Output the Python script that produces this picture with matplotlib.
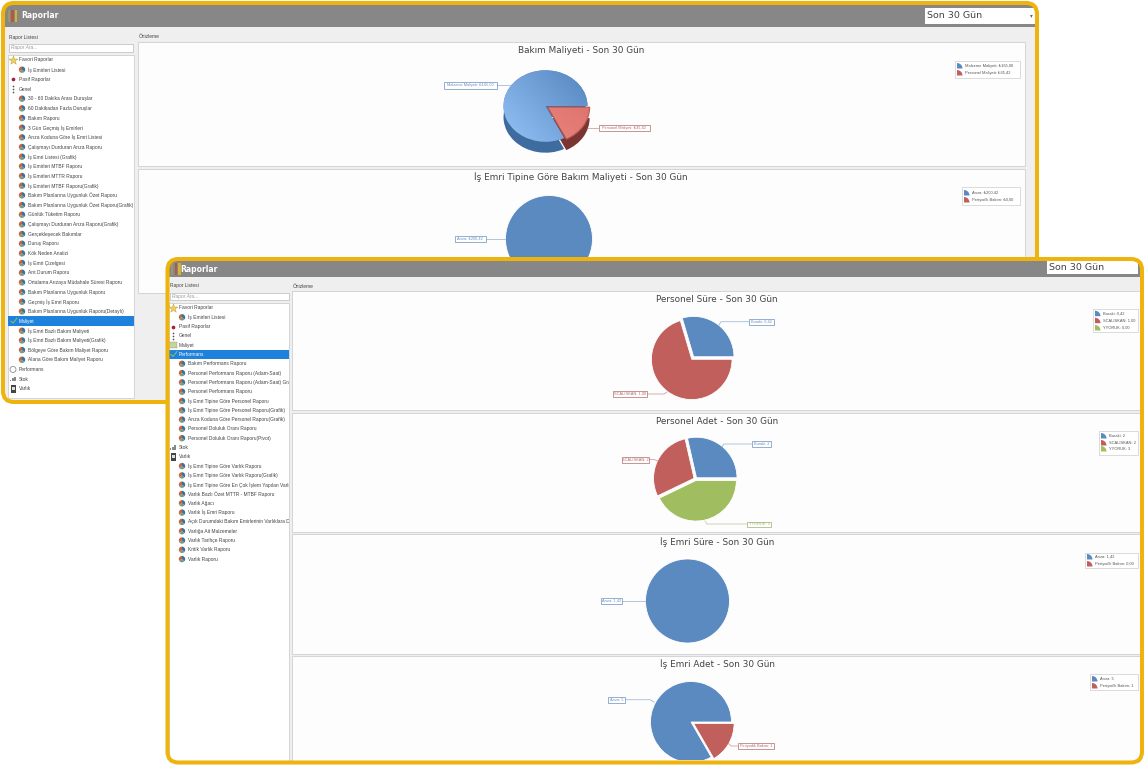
import matplotlib
matplotlib.use('Agg')
import matplotlib.pyplot as plt
import numpy as np
from matplotlib.colors import LinearSegmentedColormap
from matplotlib.patches import Rectangle, FancyBboxPatch, Wedge, Circle
from matplotlib.transforms import Affine2D, Bbox, TransformedBbox

W, H = 1146, 767
BLUE, RED, GREEN = '#5b8ac0', '#c05f5c', '#a0bd60'
GOLD = '#efb30d'
SANS = ['Liberation Sans', 'DejaVu Sans']

# tree of the back window
tree_back = [
    (0, 'Favori Raporlar'), (1, 'İş Emirleri Listesi'), (0, 'Pasif Raporlar'), (0, 'Genel'),
    (1, '30 - 60 Dakika Arası Duruşlar'), (1, '60 Dakikadan Fazla Duruşlar'), (1, 'Bakım Raporu'),
    (1, '3 Gün Geçmiş İş Emirleri'), (1, 'Arıza Koduna Göre İş Emri Listesi'),
    (1, 'Çalışmayı Durduran Arıza Raporu'), (1, 'İş Emri Listesi (Grafik)'),
    (1, 'İş Emirleri MTBF Raporu'), (1, 'İş Emirleri MTTR Raporu'), (1, 'İş Emirleri MTBF Raporu(Grafik)'),
    (1, 'Bakım Planlarına Uygunluk Özet Raporu'), (1, 'Bakım Planlarına Uygunluk Özet Raporu(Grafik)'),
    (1, 'Günlük Tüketim Raporu'), (1, 'Çalışmayı Durduran Arıza Raporu(Grafik)'),
    (1, 'Gerçekleşecek Bakımlar'), (1, 'Duruş Raporu'), (1, 'Kök Neden Analizi'), (1, 'İş Emri Çizelgesi'),
    (1, 'Arıt Durum Raporu'), (1, 'Ortalama Arızaya Müdahale Süresi Raporu'),
    (1, 'Bakım Planlarına Uygunluk Raporu'), (1, 'Geçmiş İş Emri Raporu'),
    (1, 'Bakım Planlarına Uygunluk Raporu(Detaylı)'), (0, 'Maliyet'),
    (1, 'İş Emri Bazlı Bakım Maliyeti'), (1, 'İş Emri Bazlı Bakım Maliyeti(Grafik)'),
    (1, 'Bölgeye Göre Bakım Maliyet Raporu'), (1, 'Alana Göre Bakım Maliyet Raporu'),
    (0, 'Performans'), (0, 'Stok'), (0, 'Varlık'),
]
# tree of the front window
tree_front = [
    (0, 'Favori Raporlar'), (1, 'İş Emirleri Listesi'), (0, 'Pasif Raporlar'), (0, 'Genel'),
    (0, 'Maliyet'), (0, 'Performans'),
    (1, 'Bakım Performans Raporu'), (1, 'Personel Performans Raporu (Adam-Saat)'),
    (1, 'Personel Performans Raporu (Adam-Saat) Grafik'), (1, 'Personel Performans Raporu'),
    (1, 'İş Emri Tipine Göre Personel Raporu'), (1, 'İş Emri Tipine Göre Personel Raporu(Grafik)'),
    (1, 'Arıza Koduna Göre Personel Raporu(Grafik)'), (1, 'Personel Doluluk Oranı Raporu'),
    (1, 'Personel Doluluk Oranı Raporu(Pivot)'), (0, 'Stok'), (0, 'Varlık'),
    (1, 'İş Emri Tipine Göre Varlık Raporu'), (1, 'İş Emri Tipine Göre Varlık Raporu(Grafik)'),
    (1, 'İş Emri Tipine Göre En Çok İşlem Yapılan Varlık R'), (1, 'Varlık Bazlı Özet MTTR - MTBF Raporu'),
    (1, 'Varlık Ağacı'), (1, 'Varlık İş Emri Raporu'),
    (1, 'Açık Durumdaki Bakım Emirlerinin Varlıklara Dağ'), (1, 'Varlığa Ait Malzemeler'),
    (1, 'Varlık Tarihçe Raporu'), (1, 'Kritik Varlık Raporu'), (1, 'Varlık Raporu'),
]

# pie values
bakim_labels = ['Malzeme Maliyeti: ₺165,00', 'Personel Maliyeti: ₺35,42']
bakim_values = [165.00, 35.42]
tip_legend = ['Arıza: ₺200,42', 'Periyodik Bakım: ₺0,00']
tip_values = [200.42, 0.0]
sure_legend = ['Buraki: 0,42', 'SCALISKAN: 1,00', 'YYORUK: 0,00']
sure_values = [0.42, 1.00, 0.0]
adet_legend = ['Buraki: 2', 'SCALISKAN: 2', 'YYORUK: 3']
adet_values = [2, 2, 3]
is_sure_legend = ['Arıza: 1,42', 'Periyodik Bakım: 0,00']
is_sure_values = [1.42, 0.0]
is_adet_legend = ['Arıza: 5', 'Periyodik Bakım: 1']
is_adet_values = [5, 1]

fig = plt.figure(figsize=(W / 100, H / 100), dpi=100)
ax = fig.add_axes([0, 0, 1, 1])
ax.set_axis_off()


def Y(y):
    return H - y


def rect(x0, y0, x1, y1, color, z, ec='none', lw=0):
    r = Rectangle((x0, Y(y1)), x1 - x0, y1 - y0, fc=color, ec=ec, lw=lw, zorder=z)
    ax.add_patch(r)
    return r


def txt(x, y, s, size, color='#444444', z=0, ha='left', family=SANS, **kw):
    ax.text(x, Y(y), s, fontsize=size, color=color, ha=ha, va='center', zorder=z,
            family=family, **kw)


def tree_icon(x, y, z):
    ax.add_patch(Wedge((x, Y(y)), 3.2, 90, 210, fc='#c8643c', zorder=z))
    ax.add_patch(Wedge((x, Y(y)), 3.2, 210, 320, fc='#7a9a78', zorder=z))
    ax.add_patch(Wedge((x, Y(y)), 3.2, 320, 450, fc='#3f6f9c', zorder=z))


def parent_icon(name, x, y, z):
    if name.startswith('Favori'):
        ax.scatter([x], [Y(y)], s=45, marker='*', color='#f2cf5c', edgecolor='#b89a30', lw=0.3, zorder=z)
    elif name.startswith('Pasif'):
        ax.scatter([x], [Y(y)], s=7, color='#a52035', lw=0, zorder=z)
    elif name == 'Genel':
        ax.scatter([x] * 3, [Y(y - 3), Y(y), Y(y + 3)], s=1.5, color='#555555', lw=0, zorder=z)
    elif name == 'Maliyet':
        rect(x - 4, y - 3, x + 4, y + 3, '#c4d49c', z, ec='#8c9c70', lw=0.3)
    elif name == 'Performans':
        ax.add_patch(Circle((x, Y(y)), 3, fc='white', ec='#777777', lw=0.5, zorder=z))
    elif name == 'Stok':
        for i, h in enumerate([1.5, 3, 4.5]):
            rect(x - 3 + i * 2.2, y + 2 - h, x - 1.6 + i * 2.2, y + 2, '#888888', z)
    elif name == 'Varlık':
        rect(x - 2.5, y - 4, x + 2.5, y + 4, '#444444', z)
        rect(x - 1.5, y - 2, x + 1.5, y + 1, '#dddddd', z)


def draw_tree(tree, x_parent, x_child, y0, step, sel, x0, x1, z):
    for i, (level, name) in enumerate(tree):
        y = y0 + i * step
        if name == sel:
            rect(x0, y - step / 2, x1, y + step / 2, '#1e82dc', z)
            ax.plot([x_parent - 8, x_parent - 6, x_parent - 2], [Y(y), Y(y + 2), Y(y - 3)],
                    color='#8fc060', lw=0.7, zorder=z + 1)
            txt(x_parent, y, name, 3.5, 'white', z + 1)
        elif level == 0:
            parent_icon(name, x_parent - 6, y, z)
            txt(x_parent, y, name, 3.5, '#444444', z + 1)
        else:
            tree_icon(x_child - 6, y, z)
            t = ax.text(x_child, Y(y), name, fontsize=3.5, color='#444444', va='center',
                        zorder=z + 1, family=SANS)
            t.set_clip_box(TransformedBbox(Bbox.from_extents(x0, 0, x1, H), ax.transData))
            t.set_clip_on(True)


def label_box(x0, y0, x1, y1, s, color, line, z):
    ax.plot([p[0] for p in line], [Y(p[1]) for p in line], color=color, lw=0.6, alpha=0.6, zorder=z)
    rect(x0, y0, x1, y1, 'white', z, ec=color, lw=0.5)
    txt((x0 + x1) / 2, (y0 + y1) / 2, s, 2.8, color, z + 1, ha='center')


def legend_box(x0, y0, x1, y1, rows, labels, z):
    rect(x0, y0, x1, y1, 'white', z, ec='#cccccc', lw=0.5)
    for y, s, c in zip(rows, labels, [BLUE, RED, GREEN]):
        ax.add_patch(Wedge((x0 + 2, Y(y + 2.5)), 5.5, 0, 90, fc=c, zorder=z + 1))
        txt(x0 + 10, y, s, 2.9, '#555555', z + 1)


def flat_pie(values, cx, cy, r, colors, explode, z, clip):
    # explode is in data units here, so pixels
    keep = [i for i, v in enumerate(values) if v > 0]
    wedges, _ = ax.pie([values[i] for i in keep], colors=[colors[i] for i in keep],
                       explode=[explode[i] for i in keep], center=(cx, Y(cy)), radius=r,
                       startangle=0, counterclock=True, normalize=True,
                       wedgeprops={'lw': 0.6, 'ec': 'white'})
    box = TransformedBbox(Bbox.from_extents(clip[0], Y(clip[3]), clip[2], Y(clip[1])), ax.transData)
    for w in wedges:
        w.set_zorder(z)
        w.set_clip_box(box)
        w.set_clip_on(True)


def pie_3d(values, cx, cy, r, k, depth, z):
    # tilted pie: darker copy lower down gives the side, gradients are clipped to the top
    wedges, _ = ax.pie(values, center=(cx, Y(cy)), radius=r, explode=[0, 2.5], startangle=0,
                       counterclock=True, colors=[BLUE, '#dd6b66'], wedgeprops={'lw': 0})
    tilt = Affine2D().translate(-cx, -Y(cy)).scale(1, k).translate(cx, Y(cy)) + ax.transData
    sw, _ = ax.pie(values, center=(cx, Y(cy + depth)), radius=r, explode=[0, 2.5], startangle=0,
                   counterclock=True, colors=['#3f6c9f', '#7a3533'], wedgeprops={'lw': 0})
    side_tf = Affine2D().translate(-cx, -Y(cy + depth)).scale(1, k).translate(cx, Y(cy + depth)) + ax.transData
    for w in sw:
        w.set_transform(side_tf)
        w.set_zorder(z)
    # fill between side and top along the left rim
    rect(cx - r, cy, cx + 2, cy + depth, '#3f6c9f', z)
    grad = np.linspace(0, 1, 128).reshape(1, -1) * 0.55 + np.linspace(1, 0, 128).reshape(-1, 1) * 0.45
    for w in wedges:
        w.set_transform(tilt)
        w.set_zorder(z + 1)
    for w, cols in zip(wedges, [('#4f80b8', '#97c6fa'), ('#d96a64', '#f09088')]):
        cm = LinearSegmentedColormap.from_list('g', [cols[1], cols[0]])
        im = ax.imshow(grad, cmap=cm, extent=(cx - r - 4, cx + r + 6, Y(cy + r), Y(cy - r)),
                       zorder=z + 2, aspect='auto', interpolation='bilinear')
        im.set_clip_path(w)
    # dark rim on the red slice edges
    wedges[1].set_edgecolor('#b85a55')
    wedges[1].set_linewidth(0.8)
    wedges[1].set_zorder(z + 3)
    wedges[1].set_facecolor('none')


def window_chrome(x0, y0, x1, y1, z, bar_y1, combo, title_x, icon_x):
    frame = FancyBboxPatch((x0, Y(y1)), x1 - x0, y1 - y0, boxstyle='round,pad=0,rounding_size=11',
                           fc='#efefef', ec='none', zorder=z)
    ax.add_patch(frame)
    bar = rect(x0, y0, x1, bar_y1, '#878787', z + 1)
    bar.set_clip_path(frame)
    mid = (y0 + bar_y1) / 2
    for i, c in enumerate(['#9a9a60', '#b0584c', '#d8b030']):
        rect(icon_x + i * 3.6, mid - 5, icon_x + i * 3.6 + 2.4, mid + 7, c, z + 2)
    txt(title_x, mid + 1, 'Raporlar', 5.5, 'white', z + 3, weight='bold', family='DejaVu Sans')
    c = rect(combo[0], combo[1], combo[2], combo[3], 'white', z + 2)
    c.set_clip_path(frame)
    txt(combo[0] + 2, (combo[1] + combo[3]) / 2, 'Son 30 Gün', 6.8, '#444444', z + 3, family='DejaVu Sans')
    return frame


def border(x0, y0, x1, y1, z):
    ax.add_patch(FancyBboxPatch((x0, Y(y1)), x1 - x0, y1 - y0, boxstyle='round,pad=0,rounding_size=11',
                                fc='none', ec=GOLD, lw=2.9, zorder=z))


# --- back window ---
z = 10
window_chrome(3, 3, 1037, 402, z, 27, (925, 8, 1035, 24), 21, 7.5)
txt(1030, 15.5, '▾', 4, '#666666', z + 3, family='DejaVu Sans')
txt(9, 37, 'Rapor Listesi', 3.5, '#444444', z + 2)
txt(139, 37, 'Önizleme', 3.5, '#444444', z + 2)
rect(9, 44, 133, 52, 'white', z + 2, ec='#aaaaaa', lw=0.4)
txt(11, 48, 'Rapor Ara...', 3.5, '#999999', z + 3, style='italic')
rect(8, 55, 134, 398, 'white', z + 2, ec='#bbbbbb', lw=0.4)
draw_tree(tree_back, 19, 28, 60, 9.67, 'Maliyet', 8, 134, z + 3)
rect(138, 42, 1025, 166, '#fdfdfd', z + 2, ec='#c8c8c8', lw=0.5)
rect(138, 169, 1025, 293, '#fdfdfd', z + 2, ec='#c8c8c8', lw=0.5)
txt(581, 50.5, 'Bakım Maliyeti - Son 30 Gün', 6.4, '#444444', z + 3, ha='center', family='DejaVu Sans')
txt(581, 177, 'İş Emri Tipine Göre Bakım Maliyeti - Son 30 Gün', 6.4, '#444444', z + 3, ha='center', family='DejaVu Sans')
pie_3d(bakim_values, 545.5, 106, 42, 0.85, 11, z + 3)
label_box(444, 82, 497, 88.5, bakim_labels[0], '#6a8fc0', [(497, 85), (510, 85)], z + 7)
label_box(598.5, 125, 650, 131, bakim_labels[1], '#b06a68', [(588, 128), (598, 128)], z + 7)
legend_box(955, 61, 1020, 78, [66, 73], bakim_labels, z + 3)
flat_pie(tip_values, 549, 239, 43.5, [BLUE, RED], [0, 0], z + 3, (138, 169, 1025, 293))
label_box(455, 236, 485.7, 242, tip_legend[0], '#6a8fc0', [(485, 239), (506, 239)], z + 7)
legend_box(962, 187, 1020, 205, [193, 200], tip_legend, z + 3)
border(3, 3, 1037, 402, z + 9)

# --- front window ---
z = 30
window_chrome(167.5, 259, 1142, 762.5, z, 277, (1047, 260, 1138, 274), 180, 171)
txt(170, 286, 'Rapor Listesi', 3.5, '#444444', z + 2)
txt(293, 286, 'Önizleme', 3.5, '#444444', z + 2)
rect(170, 293, 289, 300, 'white', z + 2, ec='#aaaaaa', lw=0.4)
txt(172, 296.5, 'Rapor Ara...', 3.5, '#999999', z + 3, style='italic')
rect(169, 303, 289, 761, 'white', z + 2, ec='#bbbbbb', lw=0.4)
draw_tree(tree_front, 179, 188, 308, 9.3, 'Performans', 169, 289, z + 3)
panels = [(291, 410), (413, 532), (534, 654), (656, 761)]
titles = ['Personel Süre - Son 30 Gün', 'Personel Adet - Son 30 Gün', 'İş Emri Süre - Son 30 Gün', 'İş Emri Adet - Son 30 Gün']
for (p0, p1), t in zip(panels, titles):
    rect(292, p0, 1140, p1, '#fdfdfd', z + 2, ec='#c8c8c8', lw=0.5)
    txt(717, p0 + 8, t, 6.4, '#444444', z + 3, ha='center', family='DejaVu Sans')

flat_pie(sure_values, 692.7, 358, 40.3, [BLUE, RED, GREEN], [1.6, 1.6, 0], z + 3, (292, 291, 1140, 410))
label_box(749.3, 318.7, 774, 324.5, sure_legend[0], '#6a8fc0', [(719, 325), (721, 321.7), (749, 321.7)], z + 7)
label_box(612.7, 391, 646.7, 397, sure_legend[1], '#b06a68', [(647, 394), (664, 394), (667, 392)], z + 7)
legend_box(1093, 309, 1138, 332, [313.7, 320.7, 328], sure_legend, z + 3)

flat_pie(adet_values, 695.5, 479, 40.5, [BLUE, RED, GREEN], [1.6, 1.6, 1.6], z + 3, (292, 413, 1140, 532))
label_box(752.3, 441, 770.7, 447, adet_legend[0], '#6a8fc0', [(722, 447), (724, 444), (752, 444)], z + 7)
label_box(621.7, 456.7, 649.3, 462.5, adet_legend[1], '#b06a68', [(649, 459.5), (654, 459.5), (658, 461)], z + 7)
label_box(747.3, 521.5, 771, 527, adet_legend[2], '#9ab070', [(705, 521), (707, 524), (747, 524)], z + 7)
legend_box(1099, 431, 1138, 455, [436, 443, 449], adet_legend, z + 3)

flat_pie(is_sure_values, 687.5, 601, 42, [BLUE, RED], [0, 0], z + 3, (292, 534, 1140, 654))
label_box(601, 598, 622, 604, is_sure_legend[0], '#6a8fc0', [(622, 601), (646, 601)], z + 7)
legend_box(1085, 553, 1138, 568, [557, 564], is_sure_legend, z + 3)

flat_pie(is_adet_values, 691, 722, 40.5, [BLUE, RED], [0, 3], z + 3, (292, 656, 1140, 760))
label_box(608.3, 696.7, 625.3, 702.7, is_adet_legend[0], '#6a8fc0', [(625, 699.7), (650, 699.7), (654, 702)], z + 7)
label_box(737.7, 743, 774.3, 749, is_adet_legend[1], '#b06a68', [(728, 743), (731, 746), (738, 746)], z + 7)
legend_box(1090, 674, 1138, 690, [679, 686], is_adet_legend, z + 3)
border(167.5, 259, 1142, 762.5, z + 9)

ax.set_aspect('auto')
ax.set_xlim(0, W)
ax.set_ylim(0, H)
fig.savefig('out.png', dpi=100)
